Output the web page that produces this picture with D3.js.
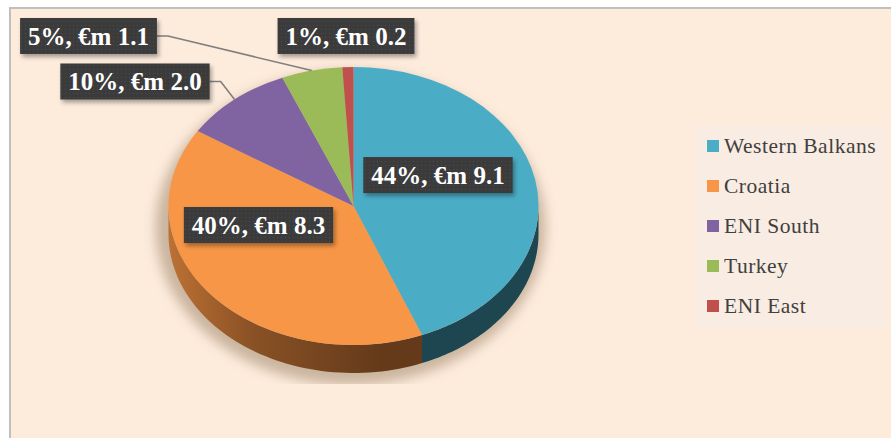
<!DOCTYPE html>
<html>
<head>
<meta charset="utf-8">
<script src="https://cdn.jsdelivr.net/npm/d3@7"></script>
<style>
  html, body { margin: 0; padding: 0; background: #ffffff; }
  svg { display: block; }
</style>
</head>
<body>
<svg id="chart" width="891" height="438"></svg>
<script>
/*--- Data ---*/
const regions = ["Western Balkans", "Croatia", "ENI South", "Turkey", "ENI East"];
const amounts = [9.1, 8.3, 2.0, 1.1, 0.2];
const shares = ["44%", "40%", "10%", "5%", "1%"];
const amountLabels = ["9.1", "8.3", "2.0", "1.1", "0.2"];

/*--- Layout ---*/
const W = 891, H = 438;
const cx = 353.5, cy = 206, rx = 185, ry = 139, depth = 28;
const topColors = ["#4bacc6", "#f79646", "#8064a2", "#9bbb59", "#c0504d"];
const sideColors = ["#1e4651", "#643a1a", "#3f3151", "#4f602c", "#632826"];
// label box centres (Excel "best fit" placement), and whether a leader line is drawn
const labelCentres = [[438, 175], [258.5, 225], [135, 81.5], [88.5, 36], [346, 36]];
const leaders = [false, false, true, true, false];

const svg = d3.select("#chart");
const defs = svg.append("defs");

// plot background + border
svg.append("rect").attr("x", 10).attr("y", 8).attr("width", W - 10).attr("height", H - 8)
  .attr("fill", "#fdebdc");
svg.append("path").attr("d", `M10,${H} L10,8 L${W},8`)
  .attr("fill", "none").attr("stroke", "#bfbfbf").attr("stroke-width", 2);

/*--- Defs ---*/
const blur = defs.append("filter").attr("id", "pieShadow")
  .attr("x", "-20%").attr("y", "-20%").attr("width", "140%").attr("height", "140%");
blur.append("feGaussianBlur").attr("stdDeviation", 6);

defs.append("clipPath").attr("id", "plotClip")
  .append("rect").attr("x", 10).attr("y", 8).attr("width", W).attr("height", 376);

const boxShadow = defs.append("filter").attr("id", "boxShadow")
  .attr("x", "-10%").attr("y", "-20%").attr("width", "130%").attr("height", "160%");
boxShadow.append("feDropShadow").attr("dx", 2).attr("dy", 3).attr("stdDeviation", 2)
  .attr("flood-color", "#000").attr("flood-opacity", 0.35);

const dots = defs.append("pattern").attr("id", "dots")
  .attr("width", 4).attr("height", 4).attr("patternUnits", "userSpaceOnUse");
dots.append("rect").attr("width", 4).attr("height", 4).attr("fill", "#3a3a3a");
dots.append("rect").attr("width", 1).attr("height", 1).attr("x", 1).attr("y", 1).attr("fill", "#4d4d4d");

// side gradients (light from the left)
sideColors.forEach((c, i) => {
  const g = defs.append("linearGradient").attr("id", "side" + i)
    .attr("gradientUnits", "userSpaceOnUse")
    .attr("x1", cx - rx).attr("x2", cx + rx * 0.15).attr("y1", 0).attr("y2", 0);
  g.append("stop").attr("offset", 0).attr("stop-color", d3.interpolateRgb(c, topColors[i])(0.6));
  g.append("stop").attr("offset", 0.4).attr("stop-color", d3.interpolateRgb(c, topColors[i])(0.25));
  g.append("stop").attr("offset", 1).attr("stop-color", c);
});

/*--- Pie ---*/
const pie = d3.pie().sort(null).value(d => d)(amounts);

function rim(a, dy) {
  return [cx + rx * Math.sin(a), cy - ry * Math.cos(a) + (dy || 0)];
}

// soft shadow under the pie
svg.append("g").attr("clip-path", "url(#plotClip)")
  .append("ellipse")
  .attr("cx", cx - 3).attr("cy", cy + depth / 2 + 8)
  .attr("rx", rx + 10).attr("ry", ry + depth / 2 + 4)
  .attr("fill", "#bda78f").attr("opacity", 0.8)
  .attr("filter", "url(#pieShadow)");

// visible side walls (lower half of the ellipse)
const sideG = svg.append("g");
pie.forEach((s, i) => {
  const a0 = Math.max(s.startAngle, Math.PI / 2);
  const a1 = Math.min(s.endAngle, Math.PI * 1.5);
  if (a1 <= a0) return;
  const n = 60;
  const angles = d3.range(n + 1).map(k => a0 + (a1 - a0) * k / n);
  const p = d3.path();
  angles.forEach((a, k) => {
    const [x, y] = rim(a);
    if (k === 0) p.moveTo(x, y); else p.lineTo(x, y);
  });
  angles.slice().reverse().forEach(a => {
    const [x, y] = rim(a, depth);
    p.lineTo(x, y);
  });
  p.closePath();
  sideG.append("path").attr("d", p.toString()).attr("fill", `url(#side${i})`);
});

// top face
const arc = d3.arc().innerRadius(0).outerRadius(rx);
svg.append("g")
  .attr("transform", `translate(${cx},${cy}) scale(1,${ry / rx})`)
  .selectAll("path")
  .data(pie)
  .join("path")
  .attr("d", arc)
  .attr("fill", (d, i) => topColors[i]);

/*--- Leader lines ---*/
const leaderG = svg.append("g");

/*--- Data labels ---*/
const labelG = svg.append("g");
pie.forEach((s, i) => {
  const [lx, ly] = labelCentres[i];
  const g = labelG.append("g");
  const t = g.append("text")
    .attr("x", lx).attr("y", ly + 8.5)
    .attr("text-anchor", "middle")
    .attr("font-family", "'Liberation Serif', 'Times New Roman', serif")
    .attr("font-weight", "bold").attr("font-size", 25)
    .attr("fill", "#ffffff")
    .text(`${shares[i]}, €m ${amountLabels[i]}`);
  const tw = t.node().getComputedTextLength();
  const bw = tw + 16, bh = 36;
  g.insert("rect", "text")
    .attr("x", lx - bw / 2).attr("y", ly - bh / 2)
    .attr("width", bw).attr("height", bh)
    .attr("fill", "url(#dots)")
    .attr("filter", "url(#boxShadow)");

  if (leaders[i]) {
    const mid = (s.startAngle + s.endAngle) / 2;
    const [px, py] = rim(mid);
    const sx = lx + bw / 2;
    leaderG.append("path")
      .attr("d", `M${sx},${ly} L${sx + 11},${ly} L${px},${py}`)
      .attr("fill", "none").attr("stroke", "#7f7f7f").attr("stroke-width", 1.6);
  }
});

/*--- Legend ---*/
const legend = svg.append("g");
legend.append("rect").attr("x", 696).attr("y", 125).attr("width", 190).attr("height", 203)
  .attr("fill", "#f9ece3");
const legendY = d3.scalePoint().domain(regions).range([140, 300]);
regions.forEach((r, i) => {
  legend.append("rect")
    .attr("x", 707).attr("y", legendY(r)).attr("width", 12).attr("height", 12)
    .attr("fill", topColors[i]);
  legend.append("text")
    .attr("x", 724).attr("y", legendY(r) + 13)
    .attr("font-family", "'Liberation Serif', 'Times New Roman', serif")
    .attr("font-size", 21.5)
    .attr("letter-spacing", 0.5)
    .attr("fill", "#404040")
    .text(r);
});
</script>
</body>
</html>
